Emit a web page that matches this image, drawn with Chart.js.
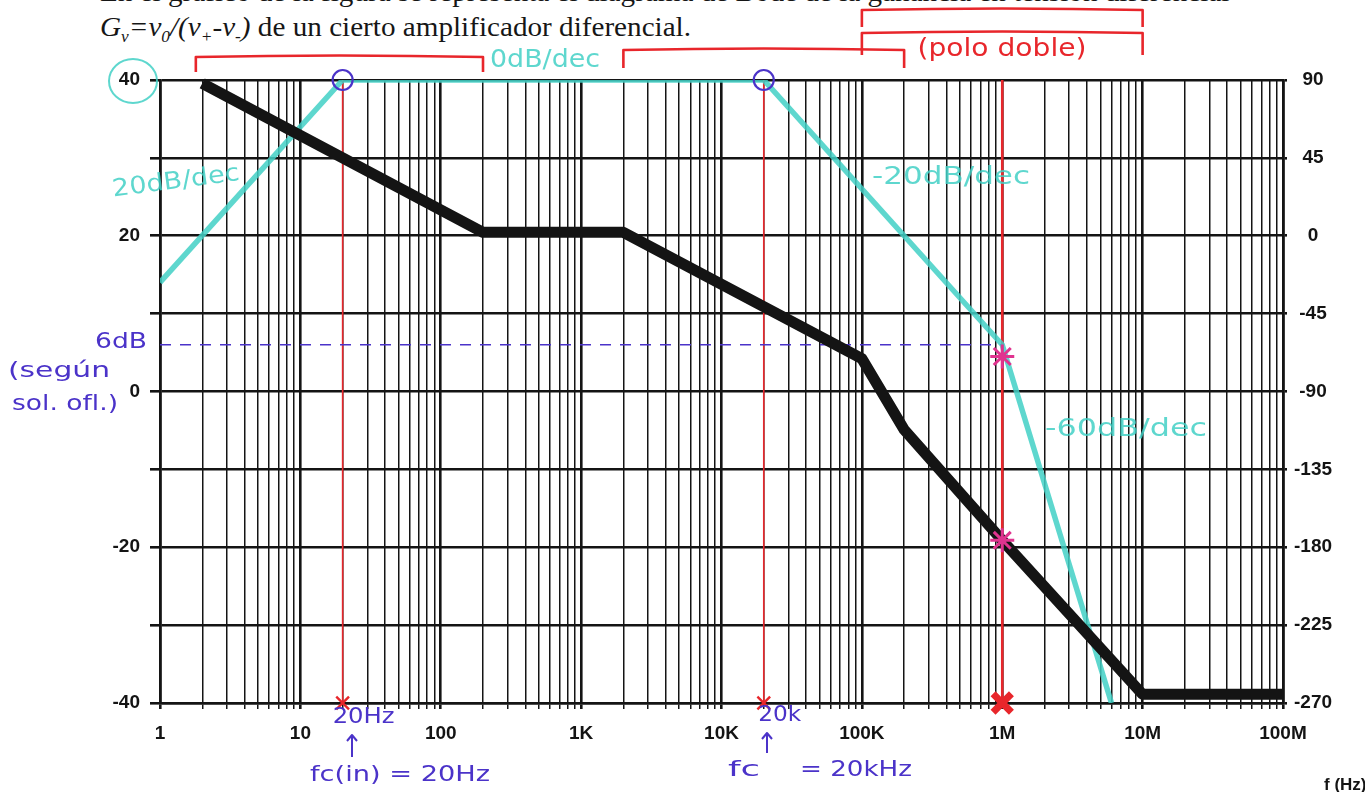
<!DOCTYPE html>
<html lang="es">
<head>
<meta charset="utf-8">
<title>Diagrama de Bode</title>
<script src="https://cdn.jsdelivr.net/npm/chart.js@4.4.1/dist/chart.umd.min.js"></script>
<style>
  html, body { margin: 0; padding: 0; background: #fff; }
  #wrap { position: relative; width: 1365px; height: 792px; overflow: hidden; background: #fff; }
  #bode { position: absolute; left: 0; top: 0; }
  .enun { position: absolute; left: 100px; font-family: "Liberation Serif", "Times New Roman", serif;
          font-size: 27px; color: #161616; white-space: nowrap; line-height: 30px;
          transform: scaleX(1.08); transform-origin: left top; }
  .enun .s { font-size: 16px; position: relative; top: 6px; }
  #fhz { position: absolute; left: 1324px; top: 775px; white-space: nowrap;
         font: bold 17px "Liberation Sans", Arial, sans-serif; color: #141414; }
</style>
</head>
<body>
<div id="wrap">
  <div class="enun" style="top:-23px">En el gráfico de la figura se representa el diagrama de Bode de la ganancia en tensión diferencial</div>
  <div class="enun" style="top:12px"><i>G<span class="s">v</span>=v<span class="s">0</span>/(v<span class="s">+</span>-v<span class="s">-</span>)</i> de un cierto amplificador diferencial.</div>
  <canvas id="bode" width="1365" height="792"></canvas>
  <div id="fhz">f (Hz)</div>
</div>
<script>
// eje de frecuencia (1 Hz .. 100 MHz) y ejes de módulo / fase
const decadeLabels = ['1', '10', '100', '1K', '10K', '100K', '1M', '10M', '100M'];
const dbRange = [-40, 40];
const dbLabels = [40, 20, 0, -20, -40];
const phaseRange = [-270, 90];
const phaseLabels = [90, 45, 0, -45, -90, -135, -180, -225, -270];

// módulo asintótico (cian)
const gainFreq = [1, 20, 20000, 1e6, 6e6];
const gainDb = [14, 40, 40, 6, -40];

// fase asintótica (negro, eje derecho)
const phaseFreq = [2, 200, 2000, 1e5, 2e5, 1e6, 1e7, 1e8];
const phaseDeg = [88, 2, 2, -71, -112, -176, -265, -265];

// frecuencias de corte y polo doble
const cornerFreq = [20, 20000];
const doublePoleFreq = 1e6;
const refDb = 6;
const starDb = 4.5;
const starDeg = -176;

// tramos marcados con corchetes (Hz)
const bracketSpans = [[1.8, 200], [2000, 2e5], [1e5, 1e7], [1e5, 1e7]];

const freqTicks = [];
for (let e = 0; e < 8; e++) {
  for (let m = 1; m < 10; m++) freqTicks.push(m * Math.pow(10, e));
}
freqTicks.push(1e8);

const isDecade = v => Math.abs(Math.log10(v) - Math.round(Math.log10(v))) < 1e-9;
const pts = (xs, ys) => xs.map((f, i) => ({x: f, y: ys[i]}));

const INK = '#141414';
const CYAN = 'rgba(66, 208, 198, 0.85)';
const RED = '#e8262b';
const VIOLET = '#4b33c9';
const PINK = '#e0338f';
const HAND = '"DejaVu Sans", "Noto Sans", sans-serif';

const notas = {
  id: 'notas',
  afterDraw(chart) {
    const {ctx, scales: {x, y}} = chart;
    const px = f => x.getPixelForValue(f);
    ctx.save();

    // corchetes rojos
    ctx.strokeStyle = RED;
    ctx.lineWidth = 2.6;
    ctx.lineJoin = 'round';
    const levels = [[57, 72], [50, 68], [10, 27], [33, 55]];
    bracketSpans.forEach((s, i) => {
      const [top, foot] = levels[i];
      ctx.beginPath();
      ctx.moveTo(px(s[0]), foot);
      ctx.lineTo(px(s[0]), top);
      ctx.quadraticCurveTo((px(s[0]) + px(s[1])) / 2, top - 3, px(s[1]), top);
      ctx.lineTo(px(s[1]), foot);
      ctx.stroke();
    });

    // círculo cian sobre la etiqueta 40
    ctx.strokeStyle = CYAN;
    ctx.lineWidth = 2;
    ctx.beginPath();
    ctx.ellipse(133, y.getPixelForValue(40) + 1, 24, 22, 0, 0, Math.PI * 2);
    ctx.stroke();

    // texto a mano: se estira en horizontal hasta el ancho w
    const write = (txt, cx, cy, color, size, w, rot) => {
      ctx.save();
      ctx.font = size + 'px ' + HAND;
      const k = w / ctx.measureText(txt).width;
      ctx.translate(cx, cy);
      if (rot) ctx.rotate(rot);
      ctx.scale(k, 1);
      ctx.fillStyle = color;
      ctx.textAlign = 'center';
      ctx.textBaseline = 'middle';
      ctx.fillText(txt, 0, 0);
      ctx.restore();
    };

    write('0dB/dec', 545, 60, CYAN, 25, 110);
    write('20dB/dec', 176, 182, CYAN, 24, 128, -0.13);
    write('-20dB/dec', 951, 178, CYAN, 24, 158);
    write('-60dB/dec', 1126, 430, CYAN, 24, 162);
    write('(polo doble)', 1002, 50, RED, 24, 169);

    write('6dB', 121, y.getPixelForValue(refDb) - 2, VIOLET, 22, 52);
    write('(según', 59, 372, VIOLET, 21, 102);
    write('sol. ofl.)', 65, 405, VIOLET, 21, 106);

    write('20Hz', px(cornerFreq[0]) + 21, 718, VIOLET, 21, 62);
    write('fc(in) = 20Hz', 400, 775, VIOLET, 22, 180);
    write('20k', px(cornerFreq[1]) + 16, 716, VIOLET, 21, 43);
    write('fc', 744, 770, VIOLET, 22, 32);
    write('= 20kHz', 856, 770, VIOLET, 22, 112);

    // flechas bajo las frecuencias de corte
    ctx.strokeStyle = VIOLET;
    ctx.lineWidth = 2;
    [[352, 735, 757], [767, 733, 753]].forEach(([ax, y0, y1]) => {
      ctx.beginPath();
      ctx.moveTo(ax, y1); ctx.lineTo(ax, y0);
      ctx.moveTo(ax - 5, y0 + 6); ctx.lineTo(ax, y0); ctx.lineTo(ax + 5, y0 + 6);
      ctx.stroke();
    });

    ctx.restore();
  }
};

const vline = (f, w) => ({
  data: [{x: f, y: dbRange[0]}, {x: f, y: dbRange[1]}],
  borderColor: RED, borderWidth: w, pointRadius: 0, order: 4
});

new Chart(document.getElementById('bode'), {
  type: 'line',
  data: {
    datasets: [
      // marcas
      {
        data: cornerFreq.map(f => ({x: f, y: 40})),
        showLine: false, pointStyle: 'circle', pointRadius: 10,
        pointBackgroundColor: 'rgba(0,0,0,0)', pointBorderColor: VIOLET, pointBorderWidth: 2.2, order: 0, clip: false
      },
      {
        data: cornerFreq.map(f => ({x: f, y: dbRange[0]})),
        showLine: false, pointStyle: 'crossRot', pointRadius: 9,
        pointBorderColor: RED, pointBorderWidth: 2.4, order: 0, clip: false
      },
      {
        data: [{x: doublePoleFreq, y: dbRange[0]}],
        showLine: false, pointStyle: 'crossRot', pointRadius: 13,
        pointBorderColor: RED, pointBorderWidth: 7, order: 0, clip: false
      },
      {
        data: [{x: doublePoleFreq, y: starDb}],
        showLine: false, pointStyle: 'star', pointRadius: 12,
        pointBorderColor: PINK, pointBorderWidth: 3, order: 0
      },
      {
        data: [{x: doublePoleFreq, y: starDeg}], yAxisID: 'y2',
        showLine: false, pointStyle: 'star', pointRadius: 12,
        pointBorderColor: PINK, pointBorderWidth: 3, order: 0
      },
      // fase
      {
        data: pts(phaseFreq, phaseDeg), yAxisID: 'y2',
        borderColor: INK, borderWidth: 11, pointRadius: 0,
        borderJoinStyle: 'round', order: 1, clip: false
      },
      // módulo
      {
        data: pts(gainFreq, gainDb),
        borderColor: CYAN, borderWidth: 5.5, pointRadius: 0, order: 2
      },
      // nivel de 6 dB
      {
        data: [{x: 1, y: refDb}, {x: doublePoleFreq, y: refDb}],
        borderColor: VIOLET, borderWidth: 1.5, borderDash: [11, 9], pointRadius: 0, order: 3
      },
      vline(cornerFreq[0], 1.6),
      vline(cornerFreq[1], 1.6),
      vline(doublePoleFreq, 2.6)
    ]
  },
  options: {
    responsive: false,
    animation: false,
    events: [],
    layout: {padding: {left: 100, right: 20, top: 80, bottom: 39}},
    plugins: {legend: {display: false}, tooltip: {enabled: false}},
    scales: {
      x: {
        type: 'logarithmic',
        position: 'bottom',
        min: 1,
        max: 1e8,
        afterBuildTicks: s => { s.ticks = freqTicks.map(v => ({value: v})); },
        afterFit: s => { s.height = 50; },
        grid: {
          color: INK,
          lineWidth: c => (c.tick && isDecade(c.tick.value) ? 2.6 : 1.5),
          tickLength: 6
        },
        border: {color: INK, width: 2.6},
        ticks: {
          autoSkip: false, maxRotation: 0, padding: 13,
          color: INK,
          font: {family: 'Liberation Sans, Arial, sans-serif', size: 19, weight: 'bold'},
          callback: v => (isDecade(v) ? decadeLabels[Math.round(Math.log10(v))] : '')
        }
      },
      y: {
        position: 'left',
        min: dbRange[0],
        max: dbRange[1],
        afterBuildTicks: s => {
          const t = [];
          for (let v = dbRange[0]; v <= dbRange[1]; v += 10) t.push({value: v});
          s.ticks = t;
        },
        afterFit: s => { s.width = 60; },
        grid: {color: INK, lineWidth: 2.6, tickLength: 10},
        border: {color: INK, width: 2.6},
        ticks: {
          padding: 10, color: INK,
          font: {family: 'Liberation Sans, Arial, sans-serif', size: 19, weight: 'bold'},
          callback: v => (dbLabels.includes(v) ? String(v) : '')
        }
      },
      y2: {
        position: 'right',
        min: phaseRange[0],
        max: phaseRange[1],
        afterBuildTicks: s => { s.ticks = phaseLabels.map(v => ({value: v})); },
        afterFit: s => { s.width = 62; },
        grid: {drawOnChartArea: false, color: INK, lineWidth: 2.6, tickLength: 4},
        border: {color: INK, width: 2.6},
        ticks: {
          padding: 7, crossAlign: 'center', color: INK,
          font: {family: 'Liberation Sans, Arial, sans-serif', size: 19, weight: 'bold'},
          callback: v => String(v)
        }
      }
    }
  },
  plugins: [notas]
});
</script>
</body>
</html>
